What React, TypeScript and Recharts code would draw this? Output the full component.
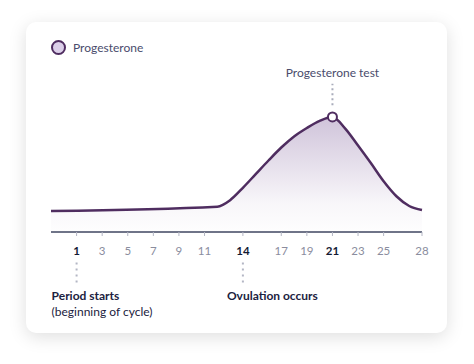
import {
  ComposedChart,
  Area,
  XAxis,
  YAxis,
  ReferenceLine,
  ReferenceDot,
  Legend,
} from 'recharts';

// cycle day vs relative progesterone level (0–100)
const days = [-1, 12, 13, 14, 15, 16, 17, 18, 19, 20, 21, 22, 23, 24, 25, 26, 27, 28];
const progesterone = [16.2, 19.5, 24.5, 34, 44.5, 55, 65, 73.5, 80, 85.5, 88.5, 79.5, 66.5, 53, 39, 27.5, 20, 16.9];

const dayTicks = [1, 3, 5, 7, 9, 11, 14, 17, 19, 21, 23, 25, 28];
const boldTicks = [1, 14, 21];

const testDay = 21;
const testLabel = 'Progesterone test';
const periodDay = 1;
const periodLines = ['Period starts', '(beginning of cycle)'];
const ovulationDay = 14;
const ovulationLines = ['Ovulation occurs'];

const data = days.map((d, i) => ({ day: d, progesterone: progesterone[i] }));

const LINE = '#4f2d60';
const FONT = 'Lato, "Open Sans", sans-serif';

function DayTick(props: any) {
  const { x, y, payload } = props;
  const bold = boldTicks.includes(payload.value);
  return (
    <text
      x={x}
      y={y}
      dy="0.71em"
      textAnchor="middle"
      fontFamily={FONT}
      fontSize={11.5}
      fontWeight={bold ? 700 : 400}
      fill={bold ? '#141a33' : '#8a8d9e'}
    >
      {payload.value}
    </text>
  );
}

function noteShape(lines: string[], dx: number) {
  return (props: any) => (
    <g>
      {lines.map((t, i) => (
        <text
          key={t}
          x={props.cx + dx}
          y={props.cy + i * 16}
          fontFamily={FONT}
          fontSize={12}
          fontWeight={i === 0 ? 700 : 400}
          fill="#1b2240"
        >
          {t}
        </text>
      ))}
    </g>
  );
}

function LegendContent() {
  return (
    <div style={{ display: 'flex', alignItems: 'center', gap: 7, fontFamily: FONT, fontSize: 12, color: '#4a4c6c' }}>
      <span
        style={{
          width: 11,
          height: 11,
          borderRadius: '50%',
          background: '#dccfe9',
          border: `2px solid ${LINE}`,
          display: 'inline-block',
        }}
      />
      Progesterone
    </div>
  );
}

export default function App() {
  return (
    <div style={{ position: 'absolute', left: 0, top: 0, width: 474, height: 364, background: '#fff' }}>
      <div
        style={{
          position: 'absolute',
          left: 26,
          top: 22,
          width: 421,
          height: 311,
          borderRadius: 10,
          background: '#fff',
          boxShadow: '0 4px 18px rgba(0,0,0,0.13)',
        }}
      />
      <div style={{ position: 'absolute', left: 0, top: 0 }}>
        <ComposedChart width={474} height={364} data={data} margin={{ top: 102, right: 52, bottom: 102, left: 51 }}>
          <defs>
            <linearGradient id="progGrad" x1="0" y1="0" x2="0" y2="1">
              <stop offset="0%" stopColor="#9c83b2" stopOpacity={0.8} />
              <stop offset="75%" stopColor="#9c83b2" stopOpacity={0.12} />
              <stop offset="100%" stopColor="#9c83b2" stopOpacity={0.02} />
            </linearGradient>
          </defs>
          <XAxis
            dataKey="day"
            type="number"
            domain={[-1, 28]}
            ticks={dayTicks}
            interval={0}
            height={30}
            axisLine={{ stroke: '#6f7488', strokeWidth: 2 }}
            tickLine={{ stroke: '#b3b6c4' }}
            tickSize={4}
            tickMargin={11}
            tick={<DayTick />}
          />
          <YAxis hide domain={[0, 100]} />
          <Legend
            layout="horizontal"
            verticalAlign="middle"
            align="center"
            content={<LegendContent />}
            wrapperStyle={{ position: 'absolute', top: 40, left: 51, width: 'auto' }}
          />
          <Area
            type="monotone"
            dataKey="progesterone"
            stroke={LINE}
            strokeWidth={2.5}
            fill="url(#progGrad)"
            baseValue={0}
            dot={false}
            activeDot={false}
            isAnimationActive={false}
          />
          <ReferenceLine
            segment={[{ x: testDay, y: 97.5 }, { x: testDay, y: 114 }]}
            stroke="#a9acbb"
            strokeWidth={2}
            strokeDasharray="2 3"
            ifOverflow="visible"
          />
          <ReferenceDot
            x={testDay}
            y={116}
            r={1}
            ifOverflow="visible"
            shape={(p: any) => (
              <text x={p.cx} y={p.cy - 4} textAnchor="middle" fontFamily={FONT} fontSize={12} fill="#4a4c6c">
                {testLabel}
              </text>
            )}
          />
          <ReferenceDot
            x={testDay}
            y={88.5}
            r={4.5}
            fill="#fff"
            stroke={LINE}
            strokeWidth={2}
            ifOverflow="visible"
          />
          {[periodDay, ovulationDay].map((d) => (
            <ReferenceLine
              key={`l${d}`}
              segment={[{ x: d, y: -23.5 }, { x: d, y: -39.5 }]}
              stroke="#b3b6c4"
              strokeWidth={2}
              strokeDasharray="2 4"
              ifOverflow="visible"
            />
          ))}
          <ReferenceDot x={periodDay} y={-52} r={1} ifOverflow="visible" shape={noteShape(periodLines, -25)} />
          <ReferenceDot x={ovulationDay} y={-52} r={1} ifOverflow="visible" shape={noteShape(ovulationLines, -16)} />
        </ComposedChart>
      </div>
    </div>
  );
}
